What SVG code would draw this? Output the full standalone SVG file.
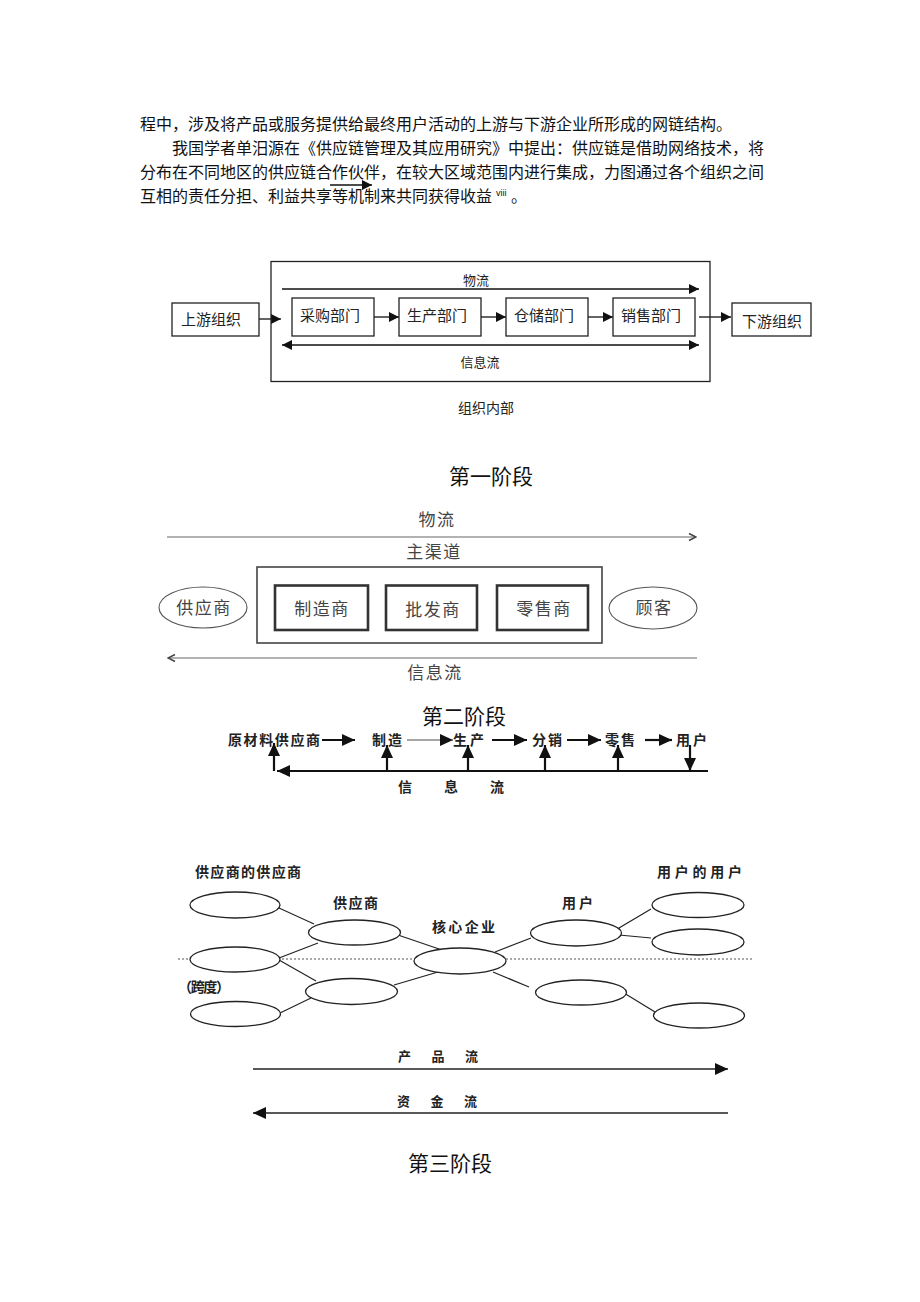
<svg xmlns="http://www.w3.org/2000/svg" width="920" height="1302" viewBox="0 0 920 1302">
<style>
text{font-family:"Liberation Sans","Noto Sans CJK SC",sans-serif}
.p{font-size:16px;fill:#111}
.b1{fill:#fff;stroke:#222;stroke-width:1.3}
.l1{stroke:#111;stroke-width:1.3;fill:none}
.t1{font-size:15px;fill:#222}
.s1{font-size:13px;fill:#222}
.stage{font-size:21px;fill:#111}
.b2{fill:#fff;stroke:#333;stroke-width:2.6}
.o2{fill:#fff;stroke:#444;stroke-width:1.6}
.e2{fill:#fff;stroke:#555;stroke-width:1.1}
.l2{stroke:#666;stroke-width:1.2;fill:none}
.t2{font-size:17px;fill:#444;letter-spacing:1.5px}
.l3{stroke:#111;stroke-width:2.2;fill:none}
.t3{font-size:14px;font-weight:bold;fill:#222}
.e4{fill:#fff;stroke:#222;stroke-width:1.3}
.l4{stroke:#222;stroke-width:1.2;fill:none}
.t4{font-size:14px;font-weight:bold;fill:#222}
.a4{stroke:#222;stroke-width:1.6;fill:none}
</style>
<defs>
<marker id="af" markerUnits="userSpaceOnUse" markerWidth="10" markerHeight="10" refX="10" refY="5" orient="auto-start-reverse"><path d="M0,0 L10,5 L0,10 z" fill="#111"/></marker>
<marker id="ab" markerUnits="userSpaceOnUse" markerWidth="13" markerHeight="12" refX="13" refY="6" orient="auto-start-reverse"><path d="M0,0 L13,6 L0,12 z" fill="#111"/></marker>
<marker id="ao" markerUnits="userSpaceOnUse" markerWidth="10" markerHeight="10" refX="9" refY="5" orient="auto-start-reverse"><path d="M2,1.5 L9,5 L2,8.5" fill="none" stroke="#444" stroke-width="1.4"/></marker>
</defs>

<g id="paragraph">
<text class="p" x="140" y="130">程中，涉及将产品或服务提供给最终用户活动的上游与下游企业所形成的网链结构。</text>
<text class="p" x="172" y="154">我国学者单汨源在《供应链管理及其应用研究》中提出：供应链是借助网络技术，将</text>
<text class="p" x="140" y="178">分布在不同地区的供应链合作伙伴，在较大区域范围内进行集成，力图通过各个组织之间</text>
<text class="p" x="140" y="202">互相的责任分担、利益共享等机制来共同获得收益</text>
<text x="496" y="196" style="font-size:9px;fill:#111">viii</text>
<text class="p" x="511" y="202">。</text>
<line x1="330" y1="185" x2="372" y2="185" class="l1" marker-end="url(#af)"/>
</g>

<!-- Diagram 1 -->
<g id="d1-connectors">
<line x1="282" y1="289" x2="699" y2="289" class="l1" marker-end="url(#af)"/>
<line x1="282" y1="345" x2="699" y2="345" class="l1" marker-start="url(#af)" marker-end="url(#af)"/>
<line x1="259" y1="319" x2="281" y2="319" class="l1" marker-end="url(#af)"/>
<line x1="374" y1="317" x2="399" y2="317" class="l1" marker-end="url(#af)"/>
<line x1="481" y1="317" x2="506" y2="317" class="l1" marker-end="url(#af)"/>
<line x1="588" y1="317" x2="613" y2="317" class="l1" marker-end="url(#af)"/>
<line x1="699" y1="317" x2="731" y2="317" class="l1" marker-end="url(#af)"/>
</g>
<g id="d1-org">
<rect x="271" y="261.5" width="439" height="120" class="b1" fill="none" style="fill:none"/>
<text class="s1" x="476" y="285" text-anchor="middle">物流</text>
<text class="s1" x="480" y="367" text-anchor="middle">信息流</text>
<text x="486" y="413" text-anchor="middle" style="font-size:14px;fill:#222">组织内部</text>
</g>
<g id="d1-upstream"><rect x="172" y="303" width="87" height="33" class="b1"/><text class="t1" x="211" y="325" text-anchor="middle">上游组织</text></g>
<g id="d1-purchase"><rect x="292" y="298" width="82" height="38" class="b1"/><text class="t1" x="330" y="321" text-anchor="middle">采购部门</text></g>
<g id="d1-production"><rect x="399" y="298" width="82" height="38" class="b1"/><text class="t1" x="437" y="321" text-anchor="middle">生产部门</text></g>
<g id="d1-storage"><rect x="506" y="298" width="82" height="38" class="b1"/><text class="t1" x="544" y="321" text-anchor="middle">仓储部门</text></g>
<g id="d1-sales"><rect x="613" y="298" width="82" height="38" class="b1"/><text class="t1" x="651" y="321" text-anchor="middle">销售部门</text></g>
<g id="d1-downstream"><rect x="732" y="303" width="79" height="33" class="b1"/><text class="t1" x="772" y="327" text-anchor="middle">下游组织</text></g>
<text class="stage" x="491" y="484" text-anchor="middle">第一阶段</text>

<!-- Diagram 2 -->
<g id="d2-connectors">
<line x1="167" y1="537" x2="696" y2="537" class="l2" marker-end="url(#ao)"/>
<line x1="697" y1="658" x2="168" y2="658" class="l2" marker-end="url(#ao)"/>
</g>
<text class="t2" x="437" y="526" text-anchor="middle">物流</text>
<text class="t2" x="434" y="558" text-anchor="middle">主渠道</text>
<text class="t2" x="435" y="679" text-anchor="middle">信息流</text>
<g id="d2-channel"><rect x="257" y="567" width="345" height="76" class="o2"/></g>
<g id="d2-supplier"><ellipse cx="203" cy="607.5" rx="44" ry="20.5" class="e2"/><text class="t2" x="204" y="614" text-anchor="middle">供应商</text></g>
<g id="d2-manufacturer"><rect x="275" y="585.5" width="93" height="44.5" class="b2"/><text class="t2" x="322" y="615" text-anchor="middle">制造商</text></g>
<g id="d2-wholesaler"><rect x="386" y="585.5" width="91" height="44.5" class="b2"/><text class="t2" x="433" y="616" text-anchor="middle">批发商</text></g>
<g id="d2-retailer"><rect x="497" y="585.5" width="91" height="44.5" class="b2"/><text class="t2" x="544" y="615" text-anchor="middle">零售商</text></g>
<g id="d2-customer"><ellipse cx="653" cy="608" rx="44" ry="21" class="e2"/><text class="t2" x="654" y="614" text-anchor="middle">顾客</text></g>
<text class="stage" x="464" y="724" text-anchor="middle">第二阶段</text>

<!-- Diagram 3 -->
<g id="d3-connectors">
<line x1="322" y1="740" x2="355" y2="740" class="l3" marker-end="url(#ab)"/>
<line x1="407" y1="740" x2="453" y2="740" stroke="#888" stroke-width="1.4" marker-end="url(#ab)"/>
<line x1="492" y1="740" x2="527" y2="740" class="l3" marker-end="url(#ab)"/>
<line x1="567" y1="740" x2="601" y2="740" class="l3" marker-end="url(#ab)"/>
<line x1="645" y1="740" x2="672" y2="740" class="l3" marker-end="url(#ab)"/>
<line x1="708" y1="771" x2="277" y2="771" class="l3" marker-end="url(#ab)"/>
<line x1="274" y1="771" x2="274" y2="743" class="l3" marker-end="url(#ab)"/>
<line x1="387" y1="771" x2="387" y2="745" class="l3" marker-end="url(#ab)"/>
<line x1="468" y1="771" x2="468" y2="745" class="l3" marker-end="url(#ab)"/>
<line x1="545" y1="771" x2="545" y2="745" class="l3" marker-end="url(#ab)"/>
<line x1="618" y1="771" x2="618" y2="745" class="l3" marker-end="url(#ab)"/>
<line x1="690" y1="745" x2="690" y2="771" class="l3" marker-end="url(#ab)"/>
</g>
<g id="d3-raw"><text class="t3" x="228" y="745" textLength="92" lengthAdjust="spacing">原材料供应商</text></g>
<g id="d3-make"><text class="t3" x="372" y="745" textLength="30" lengthAdjust="spacing">制造</text></g>
<g id="d3-produce"><text class="t3" x="453" y="745" textLength="31" lengthAdjust="spacing">生产</text></g>
<g id="d3-distribute"><text class="t3" x="532" y="745" textLength="30" lengthAdjust="spacing">分销</text></g>
<g id="d3-retail"><text class="t3" x="605" y="745" textLength="30" lengthAdjust="spacing">零售</text></g>
<g id="d3-user"><text class="t3" x="676" y="745" textLength="31" lengthAdjust="spacing">用户</text></g>
<text class="t3" x="398" y="792" textLength="106" lengthAdjust="spacing">信息流</text>

<!-- Diagram 4 -->
<line x1="178" y1="959" x2="752" y2="959" stroke="#555" stroke-width="1.2" stroke-dasharray="2,2"/>
<g id="d4-connectors">
<line x1="279" y1="908" x2="314" y2="924" class="l4"/>
<line x1="279" y1="958" x2="318" y2="943" class="l4"/>
<line x1="279" y1="960" x2="316" y2="981" class="l4"/>
<line x1="280" y1="1013" x2="311" y2="998" class="l4"/>
<line x1="398" y1="935" x2="442" y2="950" class="l4"/>
<line x1="394" y1="985" x2="438" y2="972" class="l4"/>
<line x1="495" y1="952" x2="531" y2="938" class="l4"/>
<line x1="493" y1="972" x2="529" y2="987" class="l4"/>
<line x1="619" y1="928" x2="651" y2="909" class="l4"/>
<line x1="619" y1="935" x2="651" y2="938" class="l4"/>
<line x1="624" y1="993" x2="655" y2="1012" class="l4"/>
</g>
<text class="t4" x="195" y="877" textLength="106" lengthAdjust="spacing">供应商的供应商</text>
<text class="t4" x="657" y="877" textLength="85" lengthAdjust="spacing">用户的用户</text>
<text class="t4" x="333" y="908" textLength="45" lengthAdjust="spacing">供应商</text>
<text class="t4" x="432" y="932" textLength="63" lengthAdjust="spacing">核心企业</text>
<text class="t4" x="562" y="908" textLength="31" lengthAdjust="spacing">用户</text>
<text class="t4" x="178" y="992" textLength="52" lengthAdjust="spacing">（跨度）</text>
<g id="d4-ss1"><ellipse cx="235" cy="905" rx="45" ry="13" class="e4"/></g>
<g id="d4-ss2"><ellipse cx="235" cy="959.5" rx="45" ry="12.5" class="e4"/></g>
<g id="d4-ss3"><ellipse cx="235.5" cy="1014" rx="45" ry="12.5" class="e4"/></g>
<g id="d4-s1"><ellipse cx="354.5" cy="932.5" rx="46" ry="12.5" class="e4"/></g>
<g id="d4-s2"><ellipse cx="351.5" cy="991.5" rx="46" ry="13" class="e4"/></g>
<g id="d4-core"><ellipse cx="460" cy="961" rx="46" ry="13" class="e4"/></g>
<g id="d4-u1"><ellipse cx="576" cy="933" rx="45.5" ry="13" class="e4"/></g>
<g id="d4-u2"><ellipse cx="581" cy="992.5" rx="45.5" ry="12.5" class="e4"/></g>
<g id="d4-uu1"><ellipse cx="698" cy="905" rx="46" ry="12.5" class="e4"/></g>
<g id="d4-uu2"><ellipse cx="698" cy="942" rx="46" ry="13" class="e4"/></g>
<g id="d4-uu3"><ellipse cx="699" cy="1015.5" rx="45.5" ry="12.5" class="e4"/></g>
<g id="d4-flows">
<line x1="253" y1="1069" x2="728" y2="1069" class="a4" marker-end="url(#ab)"/>
<line x1="728" y1="1113" x2="253" y2="1113" class="a4" marker-end="url(#ab)"/>
</g>
<text class="t4" x="398" y="1061" style="font-size:13px" textLength="80" lengthAdjust="spacing">产品流</text>
<text class="t4" x="397" y="1106" style="font-size:13px" textLength="80" lengthAdjust="spacing">资金流</text>
<text class="stage" x="450" y="1171" text-anchor="middle">第三阶段</text>
</svg>
